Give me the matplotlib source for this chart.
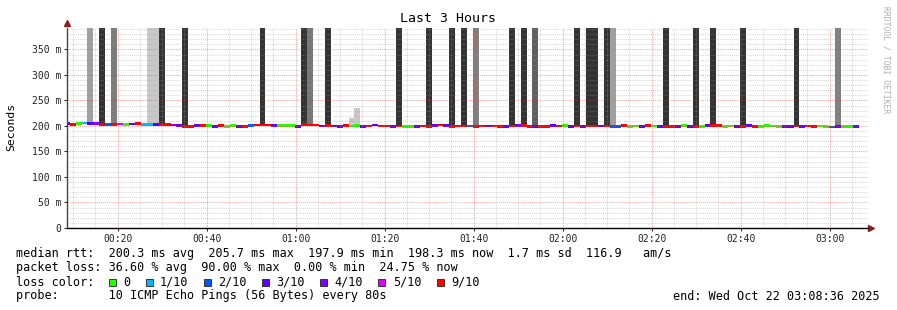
import numpy as np
import matplotlib.pyplot as plt
from matplotlib.patches import Rectangle

# 80 s steps, first step ends at 00:09:12 (seconds after midnight)
step = 80
first_end = 552
view_start = 516      # 00:08:36
view_end = 11316      # 03:08:36

median_ms = [204.8, 203.0, 205.5, 205.7, 205.0, 204.2, 203.5, 203.6, 203.6, 203.8,
             202.8, 204.0, 205.0, 203.6, 203.6, 203.5, 203.3, 202.4, 202.0, 200.8,
             198.8, 199.4, 200.2, 200.4, 200.6, 198.8, 200.4, 199.0, 200.4, 199.6,
             199.6, 201.6, 201.8, 201.8, 202.0, 201.0, 200.6, 200.2, 200.2, 199.0,
             202.4, 202.0, 202.0, 200.0, 201.0, 199.8, 199.6, 200.6, 200.0, 200.8,
             198.6, 200.0, 201.8, 200.0, 200.0, 198.8, 200.0, 199.4, 199.4, 199.2,
             199.8, 198.6, 200.4, 202.0, 200.8, 199.4, 200.0, 200.0, 199.8, 199.4,
             200.0, 199.8, 199.8, 198.6, 198.8, 199.8, 200.4, 200.2, 199.0, 198.6,
             199.6, 198.2, 200.2, 199.8, 200.2, 198.8, 199.8, 198.8, 199.8, 199.8,
             199.8, 199.8, 198.8, 198.6, 201.4, 199.0, 199.8, 199.6, 200.4, 200.0,
             198.6, 198.6, 199.6, 199.6, 200.4, 198.8, 199.6, 199.6, 200.4, 200.2,
             200.2, 199.2, 199.8, 199.2, 199.2, 200.4, 198.6, 199.6, 200.2, 199.8,
             199.6, 198.8, 198.8, 199.8, 199.2, 199.8, 198.6, 200.0, 199.0, 197.9,
             198.6, 199.6, 199.6, 198.3]

# lost pings out of 10 for each step
loss = [3, 9, 0, 1, 3, 4, 9, 2, 9, 5, 0, 3, 9, 1, 1, 3, 9, 9, 4, 3,
        9, 9, 3, 9, 0, 3, 9, 0, 0, 3, 9, 2, 9, 9, 9, 3, 0, 0, 0, 3,
        9, 9, 9, 3, 9, 3, 3, 9, 0, 0, 3, 9, 3, 9, 9, 3, 9, 0, 0, 3,
        9, 9, 3, 9, 3, 9, 9, 9, 2, 9, 9, 3, 9, 9, 3, 9, 3, 9, 9, 3,
        9, 9, 3, 9, 0, 3, 9, 3, 9, 9, 3, 9, 2, 2, 9, 0, 0, 3, 9, 0,
        3, 9, 9, 3, 0, 3, 9, 0, 3, 9, 9, 0, 0, 3, 9, 3, 9, 0, 0, 0,
        0, 3, 3, 9, 3, 9, 9, 0, 0, 2, 3, 0, 0, 3]

# smoke: step index, upper rtt (ms), shade
smoke_idx = [4, 6, 8, 14, 15, 16, 20, 33, 40, 41, 44, 48, 49, 56, 61, 65, 67, 69,
             75, 77, 79, 86, 88, 89, 91, 92, 101, 106, 109, 114, 123, 130]
smoke_top = [1000, 1000, 1000, 1000, 1000, 1000, 1000, 1000, 1000, 1000, 1000, 215, 235,
             1000, 1000, 1000, 1000, 1000, 1000, 1000, 1000, 1000, 1000, 1000, 1000, 1000,
             1000, 1000, 1000, 1000, 1000, 1000]
smoke_shade = ['#a0a0a0', '#333333', '#7c7c7c', '#c8c8c8', '#c8c8c8', '#333333', '#333333',
               '#333333', '#333333', '#777777', '#333333', '#c8c8c8', '#c8c8c8', '#333333',
               '#333333', '#333333', '#333333', '#808080', '#333333', '#333333', '#606060',
               '#333333', '#333333', '#333333', '#333333', '#a0a0a0', '#333333', '#333333',
               '#333333', '#333333', '#333333', '#808080']

loss_steps = [0, 1, 2, 3, 4, 5, 9]
loss_labels = ['0', '1/10', '2/10', '3/10', '4/10', '5/10', '9/10']
loss_colors = ['#26ff00', '#00b8ff', '#0059ff', '#5e00ff', '#7e00ff', '#dd00ff', '#ff0000']

y_ticks = [0, 50, 100, 150, 200, 250, 300, 350]
y_labels = ['0', '50 m', '100 m', '150 m', '200 m', '250 m', '300 m', '350 m']
x_ticks = [1200, 2400, 3600, 4800, 6000, 7200, 8400, 9600, 10800]
x_labels = ['00:20', '00:40', '01:00', '01:20', '01:40', '02:00', '02:20', '02:40', '03:00']

legend_lines = [
    'median rtt:  200.3 ms avg  205.7 ms max  197.9 ms min  198.3 ms now  1.7 ms sd  116.9   am/s',
    'packet loss: 36.60 % avg  90.00 % max  0.00 % min  24.75 % now',
    'loss color:',
    'probe:       10 ICMP Echo Pings (56 Bytes) every 80s',
]

mono = 'DejaVu Sans Mono'
W, H = 897, 310

fig = plt.figure(figsize=(W / 100, H / 100), dpi=100)
fig.patch.set_facecolor('white')
ax = fig.add_axes([67 / W, (H - 228) / H, (868 - 67) / W, 200 / H])

n = len(median_ms)
t_end = first_end + step * np.arange(n)
med = np.array(median_ms)
color_of = dict(zip(loss_steps, loss_colors))

# smoke columns
s_idx = np.array(smoke_idx)
ax.bar(t_end[s_idx] - step, np.array(smoke_top) - med[s_idx], width=step,
       bottom=med[s_idx], align='edge', color=smoke_shade, linewidth=0, zorder=1)

# median, coloured by loss
band = 5.5
ax.bar(t_end - step, band, width=step, bottom=med - band / 2, align='edge',
       color=[color_of[v] for v in loss], linewidth=0, zorder=2)

ax.set_xlim(view_start, view_end)
ax.set_ylim(0, 392)

ax.set_yticks(y_ticks)
ax.set_yticklabels(y_labels)
ax.set_yticks(np.arange(0, 392, 10), minor=True)
ax.set_xticks(x_ticks)
ax.set_xticklabels(x_labels)
ax.set_xticks(np.arange(600, view_end, 300), minor=True)

# grid on top of the data, semi transparent like rrdtool
ax.grid(which='minor', color='#999999', alpha=0.38, linestyle=(0, (1, 1)), linewidth=0.75, zorder=3)
ax.grid(which='major', color='#e04040', alpha=0.45, linestyle=(0, (1, 1)), linewidth=0.75, zorder=3)
ax.set_axisbelow(False)

ax.tick_params(which='major', length=2, width=0.7, labelsize=7, pad=2, colors='#222222')
ax.tick_params(which='minor', length=0)
for lab in ax.get_xticklabels() + ax.get_yticklabels():
    lab.set_family(mono)

for side in ['top', 'right']:
    ax.spines[side].set_visible(False)
ax.spines['left'].set_color('#444444')
ax.spines['bottom'].set_color('#000000')
ax.spines['left'].set_linewidth(1.0)
ax.spines['bottom'].set_linewidth(1.0)

# axis arrows
ax.plot([0], [1.025], marker='^', markersize=4.5, color='#8a2020',
        transform=ax.transAxes, clip_on=False)
ax.plot([1.004], [0], marker='>', markersize=4.5, color='#8a2020',
        transform=ax.transAxes, clip_on=False)

fig.text(448 / W, 1 - 19 / H, 'Last 3 Hours', family=mono, fontsize=9.5,
         ha='center', va='center')
fig.text(11 / W, 1 - 127 / H, 'Seconds', family=mono, fontsize=8.2,
         rotation=90, ha='center', va='center')
fig.text(886 / W, 1 - 60 / H, 'RRDTOOL / TOBI OETIKER', family=mono, fontsize=5.8,
         rotation=270, ha='center', va='center', color='#b0b0b0')

line_y = [254, 268, 282, 296]
for txt, y in zip(legend_lines, line_y):
    fig.text(16 / W, 1 - y / H, txt, family=mono, fontsize=8.5, va='center')
fig.text(880 / W, 1 - 296 / H, 'end: Wed Oct 22 03:08:36 2025', family=mono,
         fontsize=8.5, ha='right', va='center')

# loss colour swatches
cw = 7.1
x = 108.7
for lab, col in zip(loss_labels, loss_colors):
    fig.patches.append(Rectangle((x / W, 1 - 286 / H), 7 / W, 7 / H, transform=fig.transFigure,
                                 facecolor=col, edgecolor='#222222', linewidth=0.6))
    fig.text((x + 14.3) / W, 1 - 282 / H, lab, family=mono, fontsize=8.5, va='center')
    x += 14.3 + len(lab) * cw + 15.5

fig.savefig('out.png', dpi=100)
